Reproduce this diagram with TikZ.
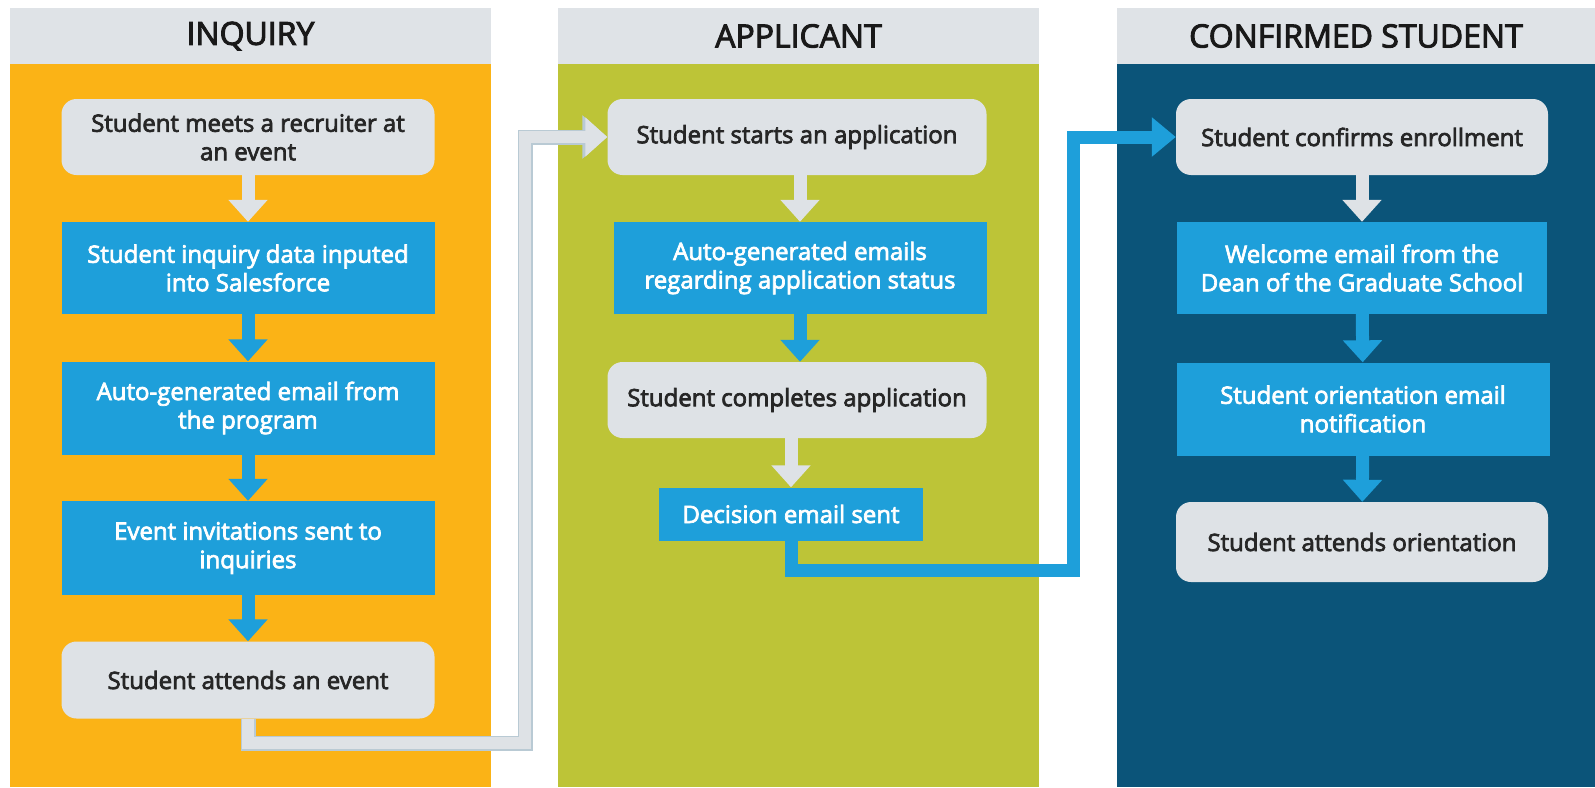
\documentclass[tikz,border=0pt]{standalone}
\usepackage{fontspec}
\setmainfont{Open Sans}
\newfontfamily\boxfont{Open Sans}[UprightFeatures={FakeBold=3}]
\usetikzlibrary{arrows.meta}
\definecolor{inqorange}{HTML}{FBB316}
\definecolor{appgreen}{HTML}{BDC437}
\definecolor{confnavy}{HTML}{0B5479}
\definecolor{stepblue}{HTML}{1E9FDA}
\definecolor{stepgray}{HTML}{DEE2E6}
\definecolor{headgray}{HTML}{DFE3E7}
\definecolor{lineedge}{HTML}{B9CAD4}
\def\panel(#1,#2)#3#4{\fill[headgray] (#1,8) rectangle (#2,64);
  \fill[#3] (#1,64) rectangle (#2,787);
  \node[headtext] at ({(#1+#2)/2},36) {#4};}
\tikzset{
  headtext/.style={text=black!90, font=\boxfont\fontsize{32}{36}\selectfont, inner sep=0pt},
  graybox/.style={fill=stepgray, rounded corners=15pt, text=black!85, align=center,
    font=\boxfont\fontsize{24}{28.5}\selectfont, inner sep=0pt},
  bluebox/.style={fill=stepblue, text=white, align=center,
    font=\boxfont\fontsize{24}{28.5}\selectfont, inner sep=0pt},
  fatarrow/.style={line width=13pt, -{Triangle[width=38pt,length=22pt]}},
}

\begin{document}
\begin{tikzpicture}[x=1pt,y=-1pt]
			\useasboundingbox (0,0) rectangle (1595,787);
			%%%%% PANELS %%%%%
			\panel(10,491){inqorange}{INQUIRY}
			\panel(558,1039){appgreen}{APPLICANT}
			\panel(1117,1595){confnavy}{CONFIRMED STUDENT}
			
			%%%%% INQUIRY %%%%%
			\node[graybox, minimum width=373, minimum height=76] (meet) at (248,137) {Student meets a recruiter at\\an event};
			\node[bluebox, minimum width=373, minimum height=92] (data) at (248,268) {Student inquiry data inputed\\into Salesforce};
			\node[bluebox, minimum width=373, minimum height=93] (auto) at (248,408) {Auto-generated email from\\the program};
			\node[bluebox, minimum width=373, minimum height=94] (invite) at (248,548) {Event invitations sent to\\inquiries};
			\node[graybox, minimum width=373, minimum height=77] (attend) at (248,680) {Student attends an event};
			
			\draw[stepgray, fatarrow] (meet) -- (data);
			\draw[stepblue, fatarrow] (data) -- (auto);
			\draw[stepblue, fatarrow] (auto) -- (invite);
			\draw[stepblue, fatarrow] (invite) -- (attend);
			
			%%%%% APPLICANT %%%%%
			\node[graybox, minimum width=379, minimum height=76] (start) at (797,137) {Student starts an application};
			\node[bluebox, minimum width=373, minimum height=92] (status) at (800,268) {Auto-generated emails\\regarding application status};
			\node[graybox, minimum width=379, minimum height=76] (complete) at (797,400) {Student completes application};
			\node[bluebox, minimum width=264, minimum height=53] (decision) at (791,514) {Decision email sent};
			
			\draw[stepgray, fatarrow] (start.south -| status) -- (status.north);
			\draw[stepblue, fatarrow] (status) -- (status |- complete.north);
			\draw[stepgray, fatarrow] (complete.south -| decision) -- (decision);
			
			%%%%% CONFIRMED STUDENT %%%%%
			\node[graybox, minimum width=372, minimum height=76] (confirm) at (1362,137) {Student confirms enrollment};
			\node[bluebox, minimum width=370, minimum height=92] (welcome) at (1362,268) {Welcome email from the\\Dean of the Graduate School};
			\node[bluebox, minimum width=373, minimum height=93] (orient) at (1363,409) {Student orientation email\\notification};
			\node[graybox, minimum width=372, minimum height=80] (attendo) at (1362,542) {Student attends orientation};
			
			\draw[stepgray, fatarrow] (confirm) -- (welcome);
			\draw[stepblue, fatarrow] (welcome) -- (orient);
			\draw[stepblue, fatarrow] (orient) -- (attendo);
			
			%%%%% CONNECTORS %%%%%
			\coordinate (turn1) at (525,743);
			\coordinate (turn2) at (1073,570);
			\draw[lineedge, line width=15pt, line join=miter, -{Triangle[width=42pt,length=25pt]}] (attend.south) |- (turn1) |- (start.west);
			\draw[stepgray, line width=12pt, line join=miter, -{Triangle[width=38pt,length=22pt]}] (attend.south) |- (turn1) |- (start.west);
			\draw[stepblue, line width=13pt, line join=miter, -{Triangle[width=38pt,length=24pt]}] (decision.south) |- (turn2) |- (confirm.west);
		\end{tikzpicture}
\end{document}
